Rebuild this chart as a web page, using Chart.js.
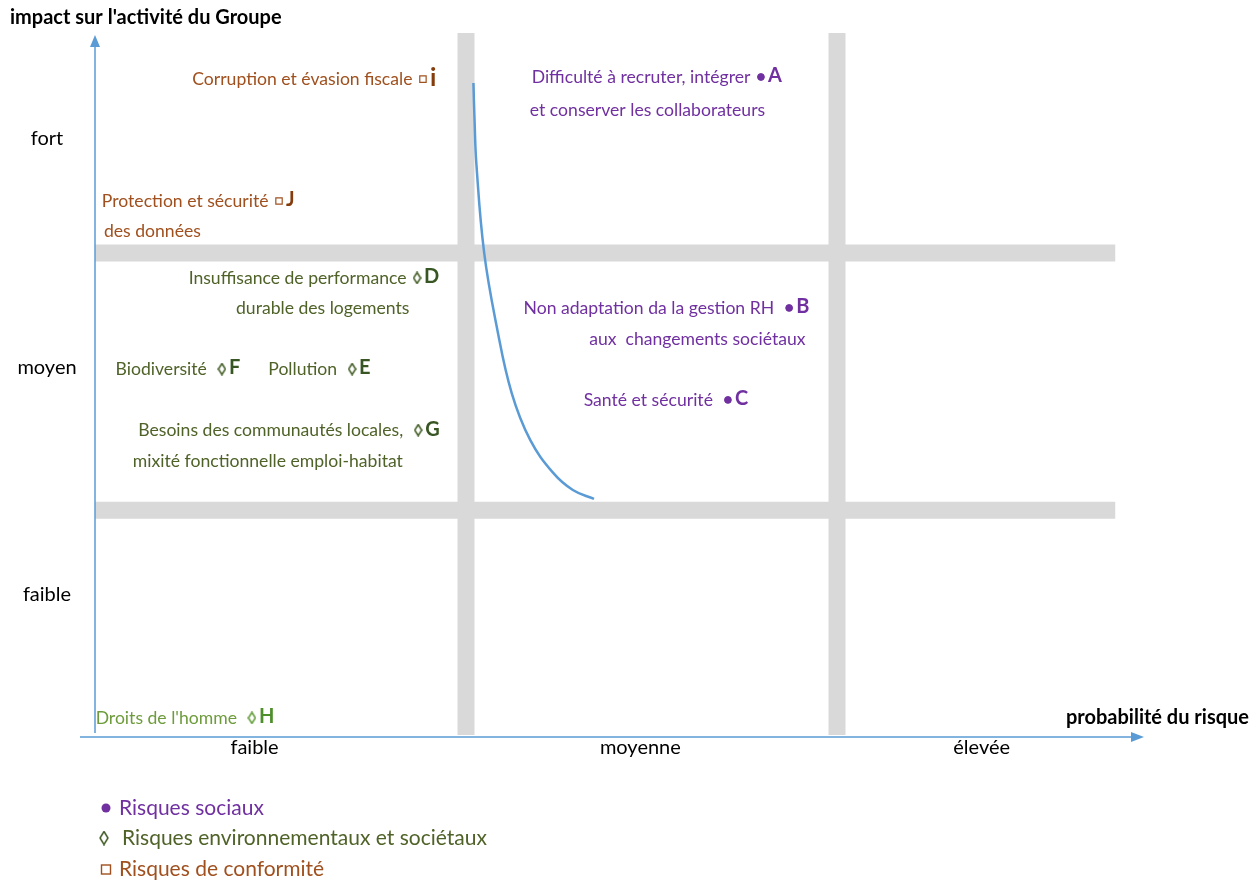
<!DOCTYPE html>
<html lang="fr">
<head>
<meta charset="utf-8">
<title>Cartographie des risques</title>
<script src="https://cdn.jsdelivr.net/npm/chart.js@4.4.1/dist/chart.umd.min.js"></script>
<style>
    html, body { margin: 0; padding: 0; background: #fff; }
    #wrap { width: 1260px; height: 882px; }
</style>
</head>
<body>
<div id="wrap"><canvas id="riskChart" width="1260" height="882"></canvas></div>
<script>
// axis categories
const probLabels = ['faible', 'moyenne', 'élevée'];
const probLabelPos = [0.43, 1.47, 2.39];
const impactLabels = ['faible', 'moyen', 'fort'];
const impactLabelPos = [0.6, 1.57, 2.55];

// limits between the zones of the matrix
const probBounds = [1, 2];
const impactBounds = [0.96, 2.06];
const impactBandEnd = 2.75;

// risks: code, family, label, probability, impact
const riskCodes = ['A', 'B', 'C', 'D', 'E', 'F', 'G', 'H', 'i', 'J'];
const riskGroups = ['social', 'social', 'social', 'env', 'env', 'env', 'env', 'env', 'conf', 'conf'];
const riskTitles = [
    'Difficulté à recruter, intégrer ',
    'Non adaptation da la gestion RH  ',
    'Santé et sécurité  ',
    'Insuffisance de performance ',
    'Pollution  ',
    'Biodiversité  ',
    'Besoins des communautés locales,  ',
    "Droits de l'homme  ",
    'Corruption et évasion fiscale ',
    'Protection et sécurité '
];
const riskProb = [1.795, 1.871, 1.706, 0.868, 0.693, 0.342, 0.871, 0.423, 0.884, 0.496];
const riskImpact = [2.812, 1.825, 1.432, 1.953, 1.564, 1.564, 1.303, 0.073, 2.803, 2.282];

// second lines of the longer labels
const noteTexts = [
    'et conserver les collaborateurs',
    'aux  changements sociétaux',
    'durable des logements',
    'mixité fonctionnelle emploi-habitat',
    'des données'
];
const noteGroups = ['social', 'social', 'env', 'env', 'conf'];
const noteProb = [1.172, 1.332, 0.380, 0.102, 0.024];
const noteImpact = [2.671, 1.692, 1.825, 1.171, 2.154];

// tolerance curve
const curveProb = [1.020, 1.023, 1.028, 1.049, 1.083, 1.123, 1.173, 1.235, 1.288, 1.345];
const curveImpact = [2.786, 2.628, 2.440, 2.060, 1.744, 1.462, 1.261, 1.120, 1.047, 1.009];

// legend
const legendGroups = ['social', 'env', 'conf'];
const legendTexts = ['Risques sociaux', 'Risques environnementaux et sociétaux', 'Risques de conformité'];

const FONT = 'Lato, "Open Sans", sans-serif';
const axisBlue = '#5B9BD5';
const bandGrey = '#d9d9d9';
const groupStyle = {
    social: { text: '#7030A0', letter: '#7030A0', mark: '#7030A0' },
    env: { text: '#4F6228', letter: '#375623', mark: '#3F5A22' },
    conf: { text: '#A0501E', letter: '#843C0C', mark: '#A0501E' }
};
// H is printed in a lighter green in the source
const codeStyle = {
    H: { text: '#6E9C3C', letter: '#4E8F2A', mark: '#5E9A34' }
};

function styleOf(i) {
    return codeStyle[riskCodes[i]] || groupStyle[riskGroups[i]];
}

function lozenge(color, w, h) {
    const c = document.createElement('canvas');
    c.width = w;
    c.height = h;
    const g = c.getContext('2d');
    g.strokeStyle = color;
    g.lineWidth = 1.5;
    g.beginPath();
    g.moveTo(w / 2, 1);
    g.lineTo(w - 1, h / 2);
    g.lineTo(w / 2, h - 1);
    g.lineTo(1, h / 2);
    g.closePath();
    g.stroke();
    return c;
}

function pointsOf(group) {
    const pts = [];
    riskCodes.forEach((code, i) => {
        if (riskGroups[i] === group) pts.push({ x: riskProb[i], y: riskImpact[i] });
    });
    return pts;
}

function band(points) {
    return {
        type: 'line',
        data: points,
        borderColor: bandGrey,
        borderWidth: 17,
        pointRadius: 0,
        order: 10
    };
}

const envStyles = riskCodes
    .filter((c, i) => riskGroups[i] === 'env')
    .map(c => lozenge((codeStyle[c] || groupStyle.env).mark, 9, 13));

const datasets = [
    {
        type: 'line',
        data: curveProb.map((p, i) => ({ x: p, y: curveImpact[i] })),
        borderColor: axisBlue,
        borderWidth: 2.5,
        pointRadius: 0,
        tension: 0.4,
        order: 1
    },
    {
        type: 'scatter',
        data: pointsOf('social'),
        pointStyle: 'circle',
        pointRadius: 3.4,
        backgroundColor: groupStyle.social.mark,
        borderColor: groupStyle.social.mark,
        order: 0
    },
    {
        type: 'scatter',
        data: pointsOf('env'),
        pointStyle: envStyles,
        order: 0
    },
    {
        type: 'scatter',
        data: pointsOf('conf'),
        pointStyle: 'rect',
        pointRadius: 4.5,
        backgroundColor: '#ffffff',
        borderColor: groupStyle.conf.mark,
        borderWidth: 1.2,
        order: 0
    }
];
probBounds.forEach(b => datasets.push(band([{ x: b, y: 0 }, { x: b, y: 3 }])));
impactBounds.forEach(b => datasets.push(band([{ x: 0, y: b }, { x: impactBandEnd, y: b }])));

const overlay = {
    id: 'overlay',
    afterDatasetsDraw(chart) {
        const { ctx, chartArea, scales: { x, y } } = chart;
        ctx.save();

        // axes with arrows
        ctx.strokeStyle = axisBlue;
        ctx.fillStyle = axisBlue;
        ctx.lineWidth = 1.5;
        const ax = chartArea.left;
        const ay = chartArea.bottom + 2;
        ctx.beginPath();
        ctx.moveTo(ax, chartArea.bottom - 2);
        ctx.lineTo(ax, chartArea.top + 12);
        ctx.moveTo(ax - 15, ay);
        ctx.lineTo(1132, ay);
        ctx.stroke();
        ctx.beginPath();
        ctx.moveTo(ax, chartArea.top + 2);
        ctx.lineTo(ax - 5, chartArea.top + 14);
        ctx.lineTo(ax + 5, chartArea.top + 14);
        ctx.closePath();
        ctx.fill();
        ctx.beginPath();
        ctx.moveTo(1144, ay);
        ctx.lineTo(1131, ay - 5);
        ctx.lineTo(1131, ay + 5);
        ctx.closePath();
        ctx.fill();

        // axis titles
        ctx.fillStyle = '#000';
        ctx.textBaseline = 'middle';
        ctx.font = 'bold 20px ' + FONT;
        ctx.textAlign = 'left';
        ctx.fillText("impact sur l'activité du Groupe", 10, 18);
        ctx.textAlign = 'right';
        ctx.fillText('probabilité du risque', 1249, 718);

        // category labels
        ctx.font = '20px ' + FONT;
        ctx.textAlign = 'center';
        impactLabels.forEach((t, i) => ctx.fillText(t, ax - 48, y.getPixelForValue(impactLabelPos[i])));
        probLabels.forEach((t, i) => ctx.fillText(t, x.getPixelForValue(probLabelPos[i]), chartArea.bottom + 13));

        // risk labels
        riskCodes.forEach((code, i) => {
            const px = x.getPixelForValue(riskProb[i]);
            const py = y.getPixelForValue(riskImpact[i]);
            const st = styleOf(i);
            ctx.font = '17.6px ' + FONT;
            ctx.fillStyle = st.text;
            ctx.textAlign = 'right';
            ctx.fillText(riskTitles[i], px - 6, py);
            ctx.font = 'bold ' + (code === 'i' ? 25 : 20) + 'px ' + FONT;
            ctx.fillStyle = st.letter;
            ctx.textAlign = 'left';
            ctx.fillText(code, px + 7, py - 1);
        });
        ctx.font = '17.6px ' + FONT;
        ctx.textAlign = 'left';
        noteTexts.forEach((t, i) => {
            ctx.fillStyle = groupStyle[noteGroups[i]].text;
            ctx.fillText(t, x.getPixelForValue(noteProb[i]), y.getPixelForValue(noteImpact[i]));
        });

        // legend of the risk families
        ctx.font = '21px ' + FONT;
        legendGroups.forEach((g, i) => {
            const ly = 808 + i * 30.5;
            const st = groupStyle[g];
            ctx.fillStyle = st.mark;
            ctx.strokeStyle = st.mark;
            ctx.lineWidth = 1.4;
            if (g === 'social') {
                ctx.beginPath();
                ctx.arc(106, ly, 4.5, 0, Math.PI * 2);
                ctx.fill();
            } else if (g === 'env') {
                ctx.drawImage(lozenge(st.mark, 10, 15), 99, ly - 8);
            } else {
                ctx.strokeRect(101.5, ly - 4, 9, 9);
            }
            ctx.fillStyle = st.text;
            ctx.fillText(legendTexts[i], g === 'env' ? 122 : 119, ly);
        });

        ctx.restore();
    }
};

new Chart(document.getElementById('riskChart'), {
    type: 'scatter',
    data: { datasets: datasets },
    options: {
        responsive: false,
        animation: false,
        devicePixelRatio: 1,
        layout: { padding: { left: 95, right: 52, top: 33, bottom: 147 } },
        plugins: {
            legend: { display: false },
            tooltip: { enabled: false }
        },
        scales: {
            x: { type: 'linear', min: 0, max: 3, display: false },
            y: { type: 'linear', min: 0, max: 3, display: false }
        }
    },
    plugins: [overlay]
});
</script>
</body>
</html>
